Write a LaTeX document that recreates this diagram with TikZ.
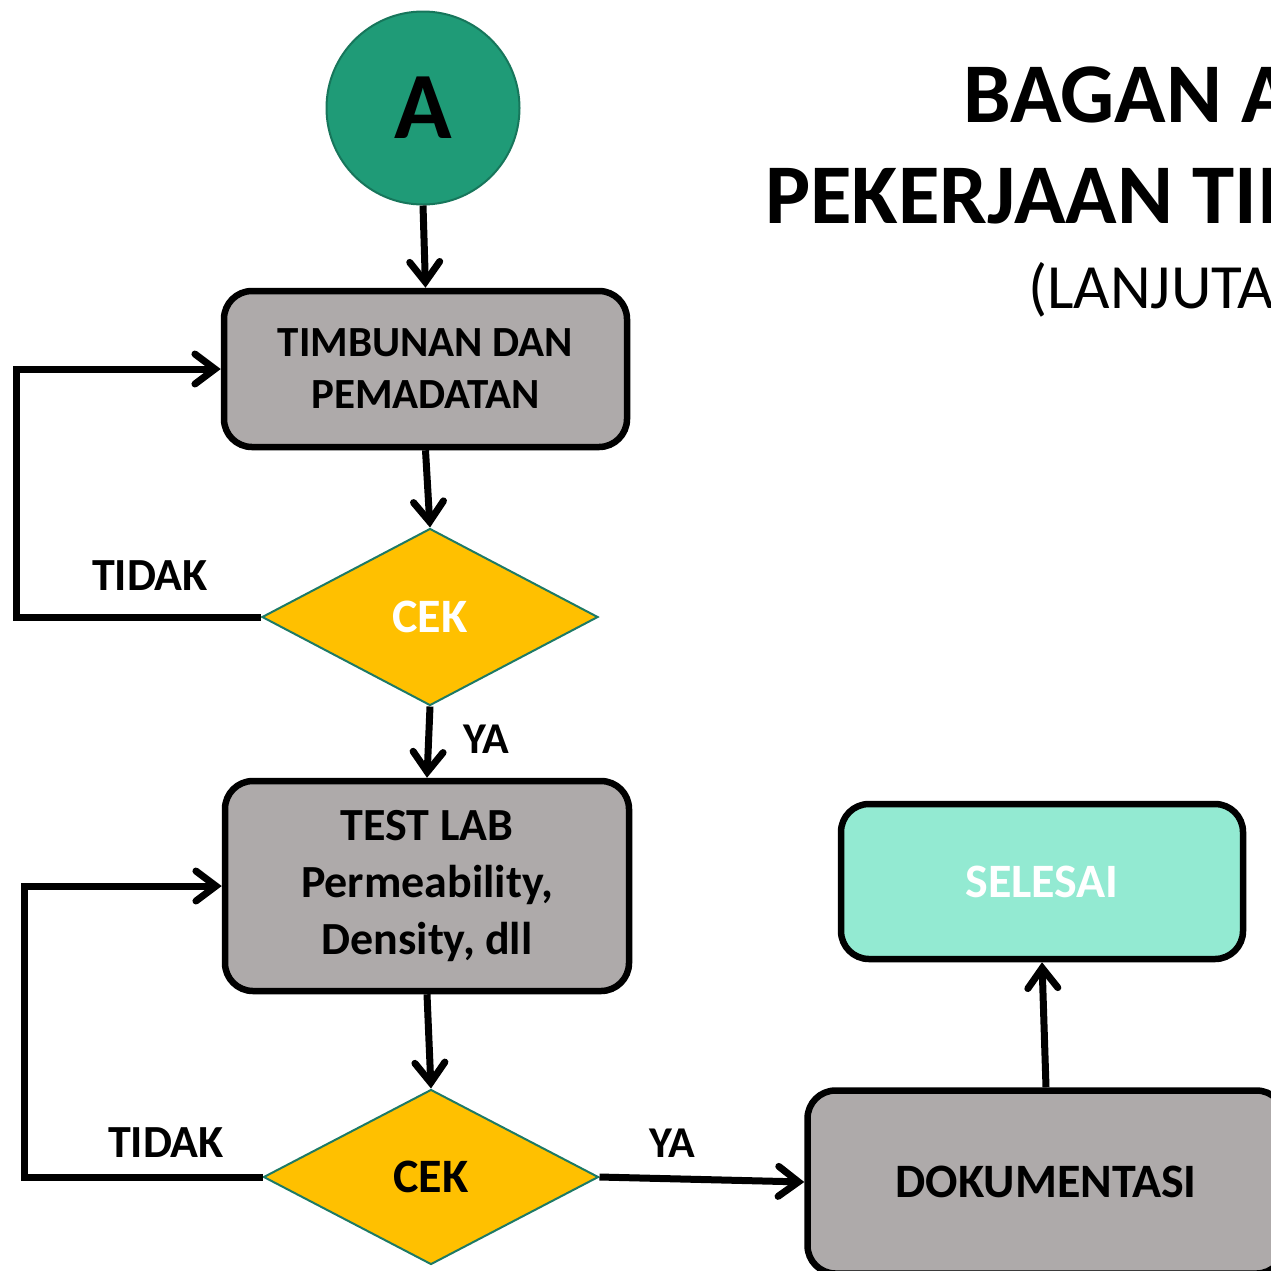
\documentclass[tikz,border=0pt]{standalone}
\usepackage{fontspec}
\setmainfont{Carlito}
\usetikzlibrary{arrows.meta,shapes.geometric}

\definecolor{boxgray}{HTML}{AEAAAA}
\definecolor{startgreen}{HTML}{1F9B77}
\definecolor{startedge}{HTML}{17765B}
\definecolor{checkyellow}{HTML}{FFC000}
\definecolor{checkedge}{HTML}{1D7A66}
\definecolor{donemint}{HTML}{93EAD2}

\tikzset{
  procbox/.style={draw=black, line width=6.5pt, fill=boxgray, rounded corners=28pt,
    align=center, font=\bfseries\fontsize{48}{58}\selectfont, inner sep=0pt},
  checkbox/.style={diamond, draw=checkedge, line width=2pt, fill=checkyellow,
    inner sep=0pt, font=\bfseries\fontsize{48}{54}\selectfont},
  flow/.style={line width=7pt, -{Straight Barb[length=20pt,width=30pt,line cap=round]}},
  lbl/.style={font=\bfseries\fontsize{46}{52}\selectfont, inner sep=0pt}
}

\begin{document}
\begin{tikzpicture}[x=1pt,y=-1pt]
\useasboundingbox (0,0) rectangle (1271,1270);

% title block
\node[anchor=base west, inner sep=0pt, font=\bfseries\fontsize{85}{90}\selectfont] (t1) at (963,122) {BAGAN ALIR};
\node[anchor=base west, inner sep=0pt, font=\bfseries\fontsize{85}{90}\selectfont] (t2) at (765,223) {PEKERJAAN TIMBUNAN};
\node[anchor=base west, inner sep=0pt, font=\fontsize{63}{70}\selectfont] (t3) at (1028,308) {(LANJUTAN)};

% start connector
\node[circle, draw=startedge, line width=2pt, fill=startgreen, minimum size=193pt,
  inner sep=0pt, font=\bfseries\fontsize{95}{100}\selectfont] (start) at (423,108) {A};

% process steps
\node[procbox, minimum width=403pt, minimum height=156pt,
  font=\bfseries\fontsize{43}{52}\selectfont] (fill) at (425.5,369)
  {TIMBUNAN DAN\\PEMADATAN};
\node[checkbox, minimum width=336pt, minimum height=177pt, text=white] (cek1) at (430,617) {CEK};
\node[procbox, minimum width=404pt, minimum height=210pt,
  font=\bfseries\fontsize{46}{57}\selectfont] (lab) at (427,886)
  {TEST LAB\\Permeability,\\Density, dll};
\node[checkbox, minimum width=335pt, minimum height=175pt, text=black] (cek2) at (431,1177) {CEK};
\node[procbox, minimum width=477pt, minimum height=183pt] (doc) at (1046,1182) {DOKUMENTASI};
\node[procbox, fill=donemint, text=white, minimum width=402pt, minimum height=155pt] (done) at (1042,881.5) {SELESAI};

% main flow
\draw[flow] (start.south) -- (fill.north);
\draw[flow] (fill.south) -- (cek1.north);
\draw[flow] (cek1.south) -- (lab.north);
\draw[flow] (lab.south) -- (cek2.north);
\draw[flow] (cek2.east) -- (doc.west);
\draw[flow] (doc.north) -- (done.south);

% rework loops
\draw[flow] (cek1.west) -- ++(-245,0) |- (fill.west);
\draw[flow] (cek2.west) -- ++(-238,0) |- (lab.west);

% branch labels
\node[lbl] (no1) at (150,576) {TIDAK};
\node[lbl] (no2) at (166,1143) {TIDAK};
\node[lbl, font=\bfseries\fontsize{44}{50}\selectfont] (yes1) at (486,739) {YA};
\node[lbl, font=\bfseries\fontsize{44}{50}\selectfont] (yes2) at (672,1143) {YA};
\end{tikzpicture}
\end{document}
